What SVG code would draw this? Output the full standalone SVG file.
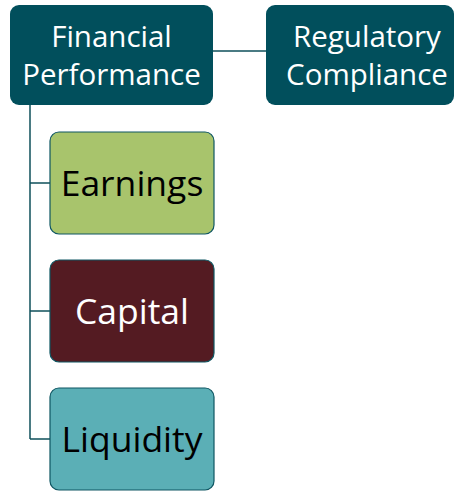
<svg xmlns="http://www.w3.org/2000/svg" width="462" height="491" viewBox="0 0 462 491">
<style>
.box{stroke:#0E5662;stroke-width:1.2}
.top{fill:#014F5C}
.t{font-family:"Open Sans","Liberation Sans",sans-serif;text-anchor:middle}
.h{font-size:29.5px;fill:#FFFFFF}
.c{font-size:35.5px}
.conn{fill:none;stroke:#0E4F5A;stroke-width:1.5}
</style>
<rect width="462" height="491" fill="#FFFFFF"/>
<g id="connectors">
<path class="conn" d="M213 51 H266"/>
<path class="conn" d="M30 105 V439"/>
<path class="conn" d="M30 183 H50"/>
<path class="conn" d="M30 311 H50"/>
<path class="conn" d="M30 439 H50"/>
</g>
<g id="financial-performance">
<rect class="top" x="10" y="5" width="203" height="100" rx="9"/>
<text class="t h" x="111.5" y="47">Financial</text>
<text class="t h" x="111.5" y="85">Performance</text>
</g>
<g id="regulatory-compliance">
<rect class="top" x="266" y="5" width="188" height="100" rx="9"/>
<text class="t h" x="367" y="47">Regulatory</text>
<text class="t h" x="367" y="85">Compliance</text>
</g>
<g id="earnings">
<rect class="box" x="50" y="132" width="164" height="102" rx="9" fill="#A8C46C"/>
<text class="t c" x="132" y="196" fill="#000000">Earnings</text>
</g>
<g id="capital">
<rect class="box" x="50" y="260" width="164" height="102" rx="9" fill="#541B22"/>
<text class="t c" x="132" y="324" fill="#FFFFFF">Capital</text>
</g>
<g id="liquidity">
<rect class="box" x="50" y="388" width="164" height="102" rx="9" fill="#5BAFB6"/>
<text class="t c" x="132" y="452" fill="#000000">Liquidity</text>
</g>
</svg>
